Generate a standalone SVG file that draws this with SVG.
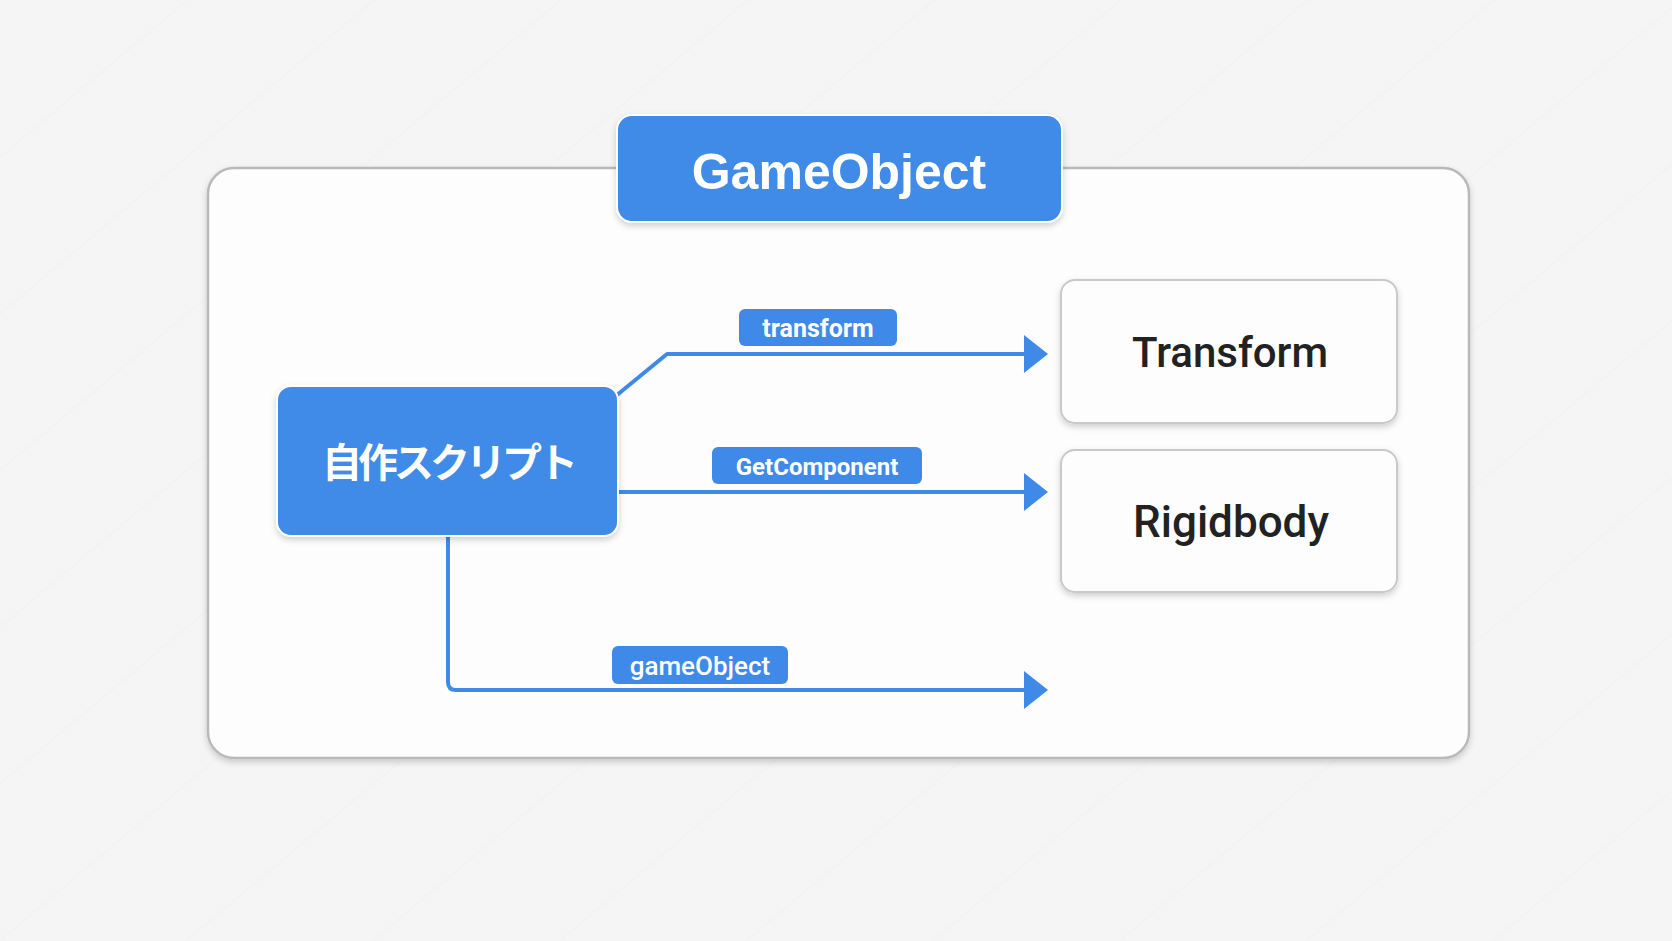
<svg xmlns="http://www.w3.org/2000/svg" width="1672" height="941" viewBox="0 0 1672 941">
<defs>
<filter id="sh" x="-10%" y="-10%" width="120%" height="130%">
<feDropShadow dx="0" dy="3" stdDeviation="3" flood-color="#000" flood-opacity="0.18"/>
</filter>
<marker id="arr" viewBox="0 0 24 38" refX="0" refY="19" markerWidth="24" markerHeight="38" markerUnits="userSpaceOnUse" orient="auto">
<path d="M0,0 L24,19 L0,38 Z" fill="#3f8ae8"/>
</marker>
<pattern id="bg" width="120" height="120" patternUnits="userSpaceOnUse" patternTransform="rotate(-40)">
<rect width="120" height="120" fill="#f5f5f6"/>
<line x1="0" y1="0" x2="120" y2="0" stroke="#ededef" stroke-width="1"/>
</pattern>
<style>
.blue{fill:#3f8ae8}
.wnode{fill:#fdfdfd;stroke:#c9c9c9;stroke-width:2}
.conn{fill:none;stroke:#3f8ae8;stroke-width:4;stroke-linejoin:round}
.lbl{font-family:"Roboto","Liberation Sans",sans-serif;font-weight:bold;font-size:25px;fill:#fff;text-anchor:middle}
.lbl.med{font-weight:500;font-size:26px}
.dark{font-family:"Roboto","Liberation Sans",sans-serif;font-weight:500;font-size:42px;fill:#222;text-anchor:middle}
</style>
</defs>
<rect width="1672" height="941" fill="url(#bg)"/>
<g id="container">
<rect x="208" y="168" width="1261" height="590" rx="26" fill="#fdfdfd" stroke="#b9b9b9" stroke-width="2.5" filter="url(#sh)"/>
</g>
<g id="gameobject">
<rect x="617" y="115" width="445" height="107" rx="15" class="blue" stroke="#fff" stroke-width="2" filter="url(#sh)"/>
<text x="839" y="189" font-family="'Liberation Sans',Arial,sans-serif" font-weight="bold" font-size="50" fill="#fff" text-anchor="middle">GameObject</text>
</g>
<g id="connectors">
<path class="conn" d="M617,395 L667,354 L1024,354" marker-end="url(#arr)"/>
<path class="conn" d="M618,492 L1024,492" marker-end="url(#arr)"/>
<path class="conn" d="M448,537 L448,682 Q448,690 456,690 L1024,690" marker-end="url(#arr)"/>
<g id="label-transform">
<rect x="739" y="309" width="158" height="37" rx="6" class="blue"/>
<text class="lbl" x="818" y="337">transform</text>
</g>
<g id="label-getcomponent">
<rect x="712" y="447" width="210" height="37" rx="6" class="blue"/>
<text class="lbl" x="817" y="475" style="font-size:24px">GetComponent</text>
</g>
<g id="label-gameobject">
<rect x="612" y="646" width="176" height="38" rx="6" class="blue"/>
<text class="lbl med" x="700" y="675">gameObject</text>
</g>
</g>
<g id="script">
<rect x="277" y="386" width="341" height="150" rx="14" class="blue" stroke="#fff" stroke-width="2" filter="url(#sh)"/>
<text x="448" y="477" font-family="'Noto Sans CJK JP',sans-serif" font-weight="bold" font-size="40" letter-spacing="-4" fill="#fff" text-anchor="middle">自作スクリプト</text>
</g>
<g id="transform">
<rect x="1061" y="280" width="336" height="143" rx="14" class="wnode" filter="url(#sh)"/>
<text class="dark" x="1230" y="367">Transform</text>
</g>
<g id="rigidbody">
<rect x="1061" y="450" width="336" height="142" rx="14" class="wnode" filter="url(#sh)"/>
<text class="dark" x="1231" y="537" style="font-size:44px">Rigidbody</text>
</g>
</svg>
